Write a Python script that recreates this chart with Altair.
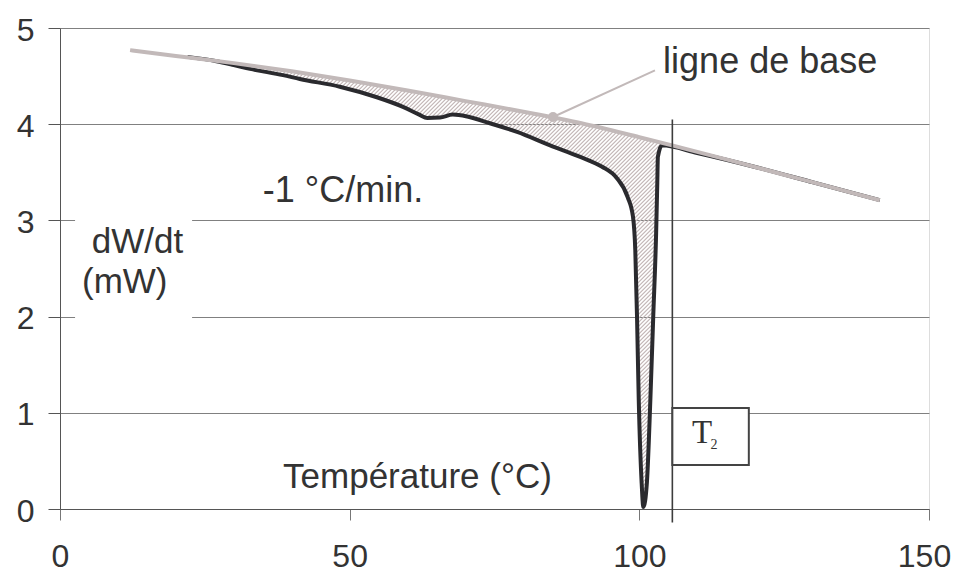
import altair as alt
import numpy as np
import pandas as pd

# ---- data ----
base_x = [12.1, 20, 30, 40, 50, 60, 70, 80, 90, 100, 106, 115, 125, 135, 141.5]
base_y = [4.77, 4.71, 4.635, 4.55, 4.455, 4.35, 4.24, 4.13, 4.01, 3.865, 3.775, 3.635, 3.475, 3.315, 3.21]

curve_x = [22, 27, 30, 32.8, 38.5, 41.4, 48.3, 54.7, 59.2, 62, 63.4, 65.6, 67.8, 70.3, 74.2, 78.9,
           84.6, 89.8, 93.5, 96.1, 98.0, 98.9, 99.3, 99.6, 99.9, 100.4, 100.7, 101.3, 101.9, 102.4,
           102.9, 103.1, 103.2, 103.9, 110, 120, 130, 141.5]
curve_y = [4.70, 4.655, 4.615, 4.575, 4.51, 4.47, 4.39, 4.28, 4.18, 4.10, 4.065, 4.07, 4.10, 4.08,
           4.01, 3.92, 3.78, 3.66, 3.56, 3.44, 3.24, 3.04, 2.69, 2.0, 1.13, 0.27, 0.02, 0.27, 1.13,
           2.0, 2.87, 3.39, 3.66, 3.78, 3.70, 3.555, 3.395, 3.21]

x_ticks = [0, 50, 100, 150]
y_ticks = [0, 1, 2, 3, 4, 5]

t2_x = 105.7
t2_line_y = [-0.14, 4.05]
t2_box_x = [105.7, 118.9]
t2_box_y = [0.457, 1.05]

leader_x = [85.1, 102.7]
leader_y = [4.075, 4.56]

cover_x = [2.6, 22.8]
cover_y = [1.5, 3.5]

W, H = 869, 481
FONT = "Liberation Sans"
TXT = "#333333"

# ---- hatch between baseline and curve (derived from the two series) ----
sx, sy = W / 150.0, H / 5.0
X = np.arange(22 * sx, 103.9 * sx, 0.25)
up = np.interp(X / sx, base_x, base_y) * sy
lo = np.interp(X / sx, curve_x, curve_y) * sy
segs = []
for c in np.arange(X.min() - up.max() - 4, X.max() + 4, 4.0):
    Yl = X - c
    inside = ((Yl < up - 1) & (Yl > lo + 1)).astype(int)
    if inside.sum() == 0:
        continue
    d = np.diff(np.concatenate([[0], inside, [0]]))
    starts = np.where(d == 1)[0]
    ends = np.where(d == -1)[0] - 1
    for s, e in zip(starts, ends):
        if e > s:
            segs.append({"x": X[s] / sx, "y": Yl[s] / sy, "x2": X[e] / sx, "y2": Yl[e] / sy})
hatch_df = pd.DataFrame(segs)

xs = alt.Scale(domain=[0, 150], nice=False, zero=False)
ys = alt.Scale(domain=[0, 5], nice=False, zero=False)

x_axis = alt.Axis(values=x_ticks, grid=False, domainColor="#555555", tickColor="#777777",
                  tickSize=11, labelFontSize=32, labelColor=TXT, labelFont=FONT,
                  labelPadding=21, title=None, labelFlush=False, format="d",
                  labelOffset={"condition": {"test": "datum.value == 150", "value": -5}, "value": 0})
y_axis = alt.Axis(values=y_ticks, grid=True, gridColor="#808080", gridWidth=1,
                  domainColor="#555555", tickColor="#555555", tickSize=12,
                  labelFontSize=32, labelColor=TXT, labelFont=FONT, labelPadding=14,
                  title=None, labelFlush=False, format="d", labelOffset=2)

base_df = pd.DataFrame({"x": base_x, "y": base_y})
curve_df = pd.DataFrame({"x": curve_x, "y": curve_y})

axes_layer = alt.Chart(pd.DataFrame({"x": [0], "y": [0]})).mark_point(opacity=0).encode(
    x=alt.X("x:Q", scale=xs, axis=x_axis),
    y=alt.Y("y:Q", scale=ys, axis=y_axis),
)

cover = alt.Chart(pd.DataFrame({"x": [cover_x[0]], "x2": [cover_x[1]],
                                "y": [cover_y[0]], "y2": [cover_y[1]]})).mark_rect(
    fill="white").encode(x="x:Q", x2="x2:Q", y="y:Q", y2="y2:Q")

hatch = alt.Chart(hatch_df).mark_rule(color="#c2b6b6", strokeWidth=1.2).encode(
    x="x:Q", y="y:Q", x2="x2:Q", y2="y2:Q")

curve = alt.Chart(curve_df).mark_line(color="#2a2a2e", strokeWidth=4, interpolate="monotone").encode(
    x="x:Q", y="y:Q", order=alt.Order("x:Q"))

base = alt.Chart(base_df).mark_line(color="#c2b9b9", strokeWidth=4, interpolate="monotone").encode(
    x="x:Q", y="y:Q", order=alt.Order("x:Q"))

leader = alt.Chart(pd.DataFrame({"x": [leader_x[0]], "x2": [leader_x[1]],
                                 "y": [leader_y[0]], "y2": [leader_y[1]]})).mark_rule(
    color="#c2b9b9", strokeWidth=2).encode(x="x:Q", x2="x2:Q", y="y:Q", y2="y2:Q")

dot = alt.Chart(pd.DataFrame({"x": [leader_x[0]], "y": [leader_y[0]]})).mark_circle(
    color="#c2b9b9", size=100, opacity=1).encode(x="x:Q", y="y:Q")

vline = alt.Chart(pd.DataFrame({"x": [t2_x], "y": [t2_line_y[0]], "y2": [t2_line_y[1]]})).mark_rule(
    color="#3c3c3c", strokeWidth=1.6).encode(x="x:Q", y="y:Q", y2="y2:Q")

t2box = alt.Chart(pd.DataFrame({"x": [t2_box_x[0]], "x2": [t2_box_x[1]],
                                "y": [t2_box_y[0]], "y2": [t2_box_y[1]]})).mark_rect(
    fill="white", stroke="#444444", strokeWidth=2).encode(x="x:Q", x2="x2:Q", y="y:Q", y2="y2:Q")

labels_df = pd.DataFrame({
    "x": [35.0, 5.5, 3.8, 38.5, 104.1],
    "y": [3.19, 2.66, 2.245, 0.22, 4.53],
    "t": ["-1 °C/min.", "dW/dt", "(mW)", "Température (°C)", "ligne de base"],
    "s": [36, 35, 35, 35, 36],
})
labels = alt.Chart(labels_df).mark_text(align="left", baseline="alphabetic", font=FONT,
                                        color=TXT).encode(
    x="x:Q", y="y:Q", text="t:N", size=alt.Size("s:Q", scale=None, legend=None))

t_main = alt.Chart(pd.DataFrame({"x": [109.1], "y": [0.686], "t": ["T"]})).mark_text(
    align="left", baseline="alphabetic", font="Liberation Serif", fontSize=33, color=TXT).encode(
    x="x:Q", y="y:Q", text="t:N")
t_sub = alt.Chart(pd.DataFrame({"x": [112.3], "y": [0.62], "t": ["2"]})).mark_text(
    align="left", baseline="alphabetic", font="Liberation Serif", fontSize=14, color=TXT).encode(
    x="x:Q", y="y:Q", text="t:N")

chart = alt.layer(axes_layer, cover, hatch, curve, base, leader, dot, vline, t2box,
                  labels, t_main, t_sub).properties(
    width=W, height=H,
    autosize=alt.AutoSizeParams(type="none"),
    padding={"left": 52, "top": 20, "right": 22, "bottom": 64},
).configure_view(stroke="#a89c9c", strokeWidth=1).configure(background="white")

chart.save("out.html", embed_options={"renderer": "svg", "actions": False})
